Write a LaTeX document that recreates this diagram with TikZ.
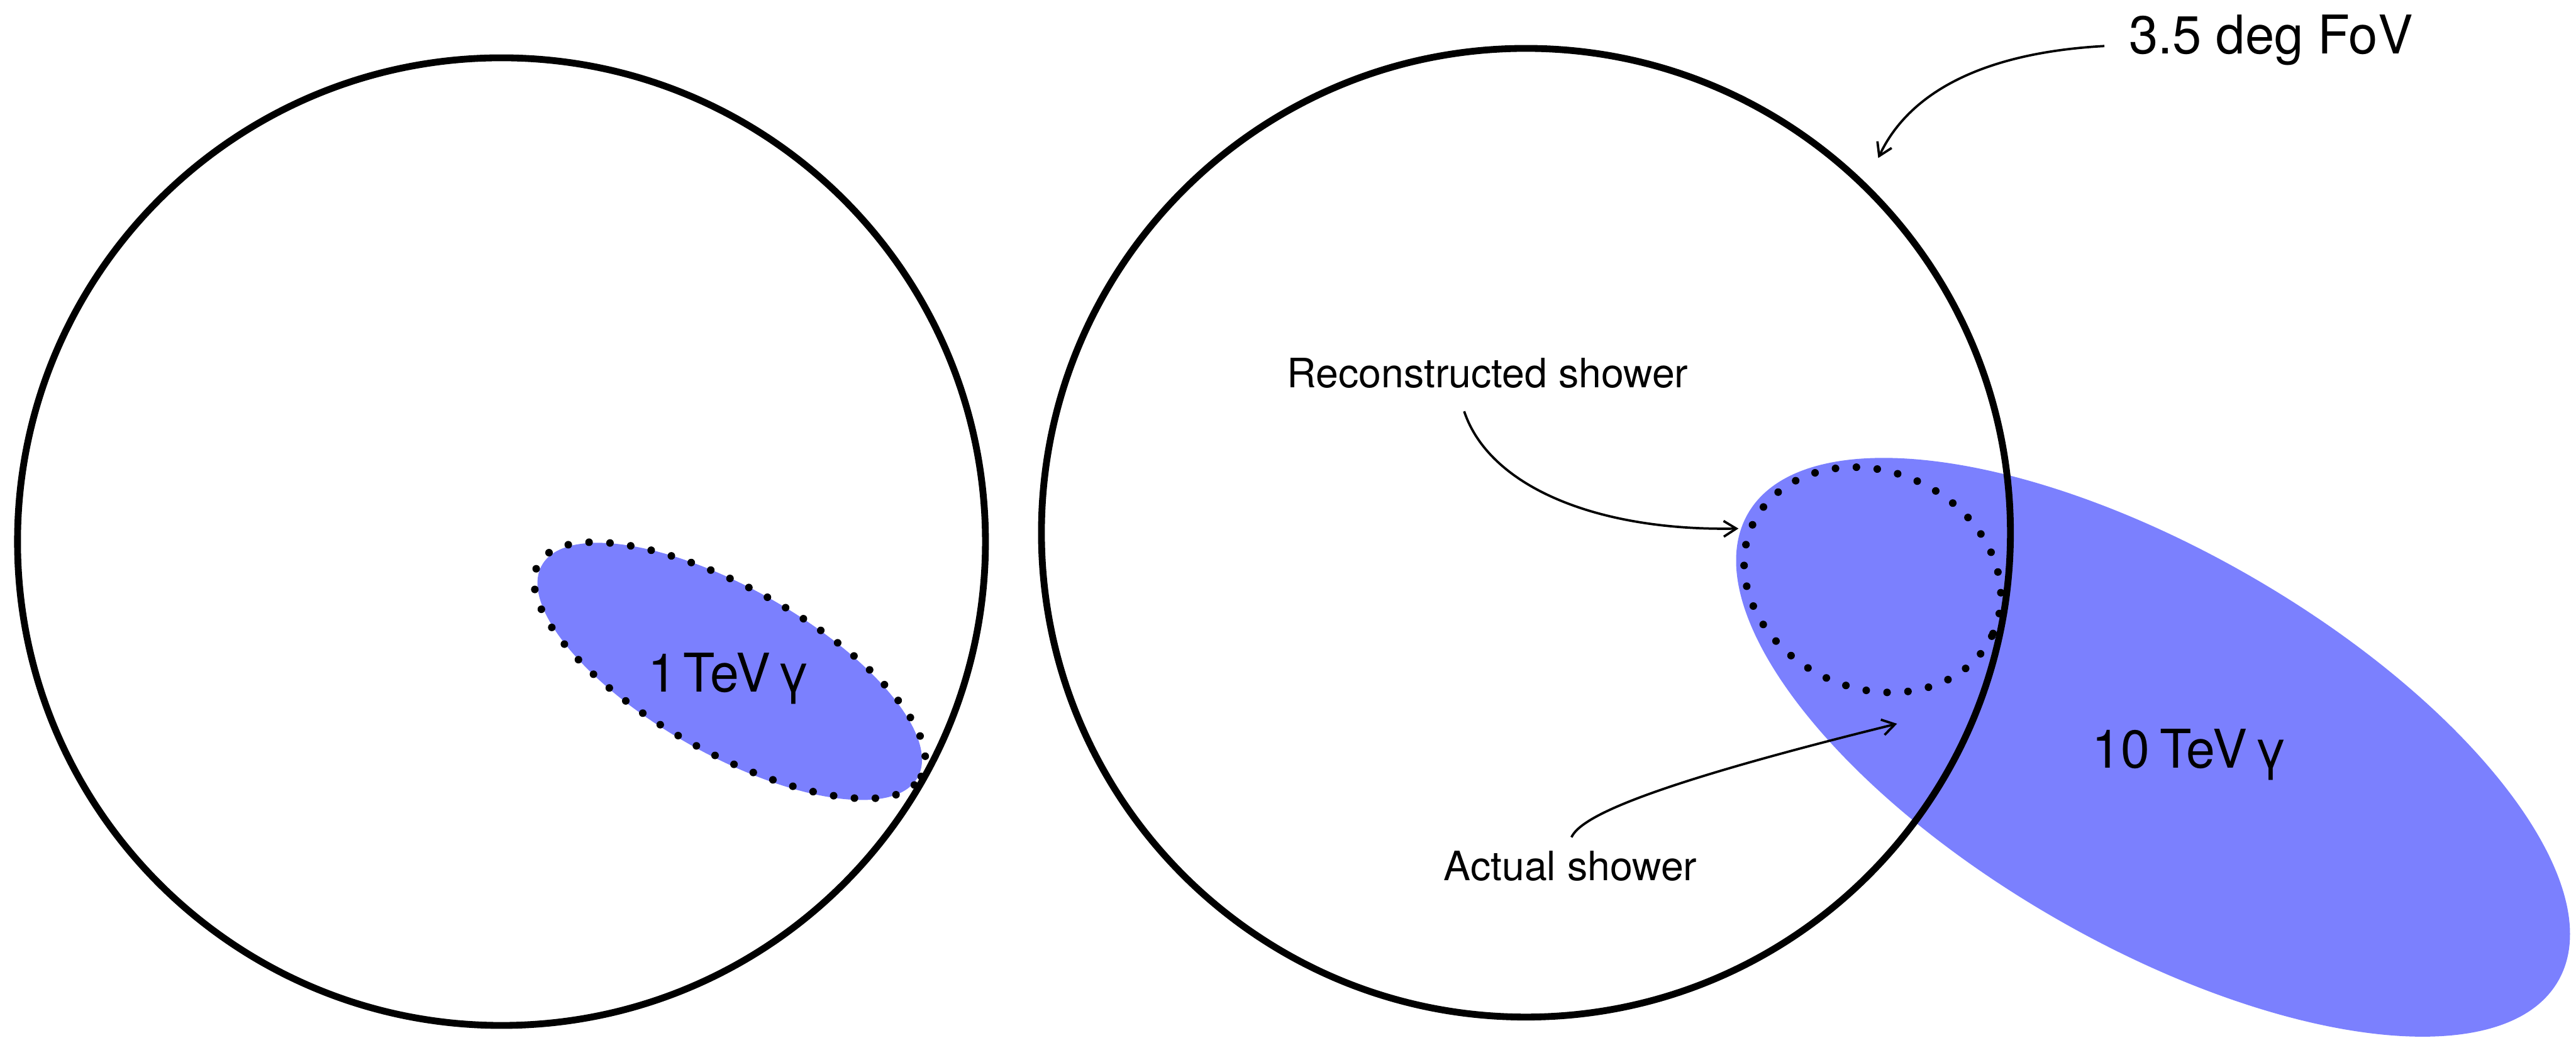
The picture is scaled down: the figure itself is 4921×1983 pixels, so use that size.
\documentclass[tikz,border=0pt]{standalone}
\usepackage{fontspec}
\setmainfont{TeX Gyre Heros}
\usetikzlibrary{arrows.meta}
\definecolor{showerblue}{RGB}{123,128,254}
\begin{document}
\begin{tikzpicture}[x=0.01cm,y=-0.01cm,
  fov/.style={draw=black,line width=0.13cm},
  shower/.style={fill=showerblue},
  dotline/.style={draw=black,line width=0.145cm,line cap=round,dash pattern=on 0pt off 0.4cm},
  pointer/.style={draw=black,line width=0.045cm,-{Straight Barb[length=0.24cm,width=0.3cm]}},
  biglabel/.style={inner sep=0pt,font=\fontsize{29}{34}\selectfont},
  smalllabel/.style={inner sep=0pt,font=\fontsize{22}{26}\selectfont}]
\useasboundingbox (0,0) rectangle (4921,1983);
% blue showers
\fill[shower] (1394,1283) ellipse [x radius=4.12cm, y radius=1.59cm, rotate=-29.5];
\fill[shower] (4113,1428) ellipse [x radius=8.93cm, y radius=3.76cm, rotate=-30];
% field of view circles
\draw[fov] (958,1035) circle [radius=9.24cm];
\draw[fov] (2915,1018) circle [radius=9.25cm];
% dotted reconstructed showers
\draw[dotline] (1394,1281) ellipse [x radius=4.18cm, y radius=1.57cm, rotate=-29];
\draw[dotline] (3577,1108) ellipse [x radius=2.52cm, y radius=2.07cm, rotate=-24];
% labels
\node[biglabel,anchor=base] (fovlab) at (4338,103) {\scalebox{0.98}[1]{3.5 deg FoV}};
\node[biglabel,anchor=base] (onetev) at (1393,1322) {\scalebox{0.97}[1]{1\hspace{0.12em}TeV\hspace{0.12em}γ}};
\node[biglabel,anchor=base] (tentev) at (4183,1468) {\scalebox{0.97}[1]{10\hspace{0.2em}TeV\hspace{0.14em}γ}};
\node[smalllabel,anchor=base] (reclab) at (2842,741) {Reconstructed shower};
\node[smalllabel,anchor=base] (actlab) at (3000,1682) {Actual shower};
% arrow end points
\coordinate (fovS) at (4020,88);
\coordinate (fovE) at (3588,302);
\coordinate (recS) at (2797,786);
\coordinate (recE) at (3321,1010);
\coordinate (actS) at (3002,1600);
\coordinate (actE) at (3624,1383);
\draw[pointer] (fovS) .. controls (3800,100) and (3650,170) .. (fovE);
\draw[pointer] (recS) .. controls (2845,930) and (3050,1015) .. (recE);
\draw[pointer] (actS) .. controls (3020,1560) and (3150,1500) .. (actE);
\end{tikzpicture}
\end{document}
